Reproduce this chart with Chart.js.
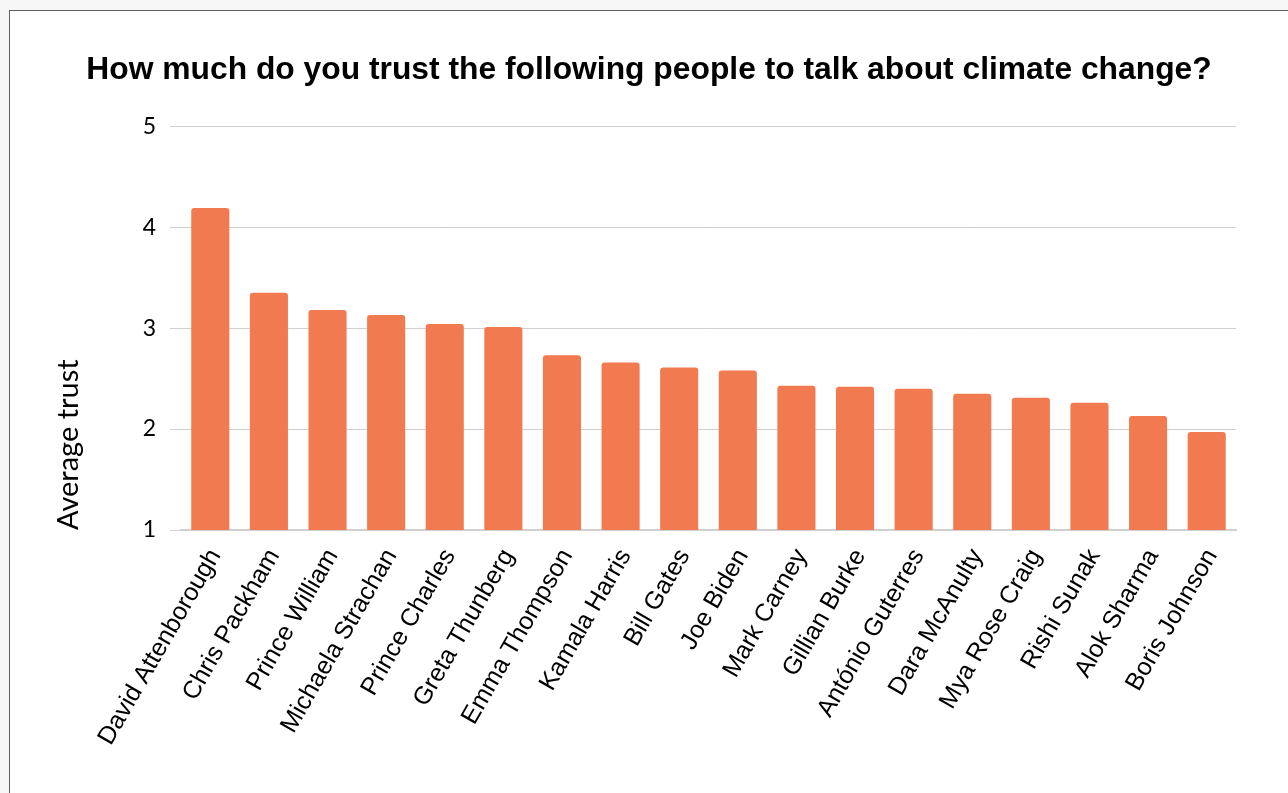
<!DOCTYPE html>
<html>
<head>
<meta charset="utf-8">
<script src="https://cdn.jsdelivr.net/npm/chart.js@4"></script>
<style>
  html, body { margin: 0; padding: 0; background: #f7f7f7; overflow: hidden; }
  #frame {
    position: absolute; left: 9px; top: 10px;
    width: 1300px; height: 800px;
    background: #fff; border: 1px solid #5f5f5f;
  }
  #chart { position: absolute; left: 0; top: 0; }
</style>
</head>
<body>
<div id="frame">
  <div id="chart" style="width:1278px;height:782px;"><canvas id="trustChart"></canvas></div>
</div>
<script>
const people = ['David Attenborough', 'Chris Packham', 'Prince William', 'Michaela Strachan',
  'Prince Charles', 'Greta Thunberg', 'Emma Thompson', 'Kamala Harris', 'Bill Gates',
  'Joe Biden', 'Mark Carney', 'Gillian Burke', 'António Guterres', 'Dara McAnulty',
  'Mya Rose Craig', 'Rishi Sunak', 'Alok Sharma', 'Boris Johnson'];
const avgTrust = [4.19, 3.35, 3.18, 3.13, 3.04, 3.01, 2.73, 2.66, 2.61,
  2.58, 2.43, 2.42, 2.40, 2.35, 2.31, 2.26, 2.13, 1.97];
const yTicks = [1, 2, 3, 4, 5];

const ctx = document.getElementById('trustChart');
new Chart(ctx, {
  type: 'bar',
  data: {
    labels: people,
    datasets: [{
      label: 'Average trust',
      data: avgTrust,
      backgroundColor: '#f27a50',
      borderRadius: { topLeft: 3, topRight: 3 },
      borderSkipped: 'start',
      barPercentage: 0.65,
      categoryPercentage: 1.0
    }]
  },
  options: {
    responsive: true,
    maintainAspectRatio: false,
    animation: false,
    layout: { padding: { left: 52, right: 52, top: 0, bottom: 20 } },
    plugins: {
      legend: { display: false },
      tooltip: { enabled: false },
      title: {
        display: true,
        text: 'How much do you trust the following people to talk about climate change?',
        color: '#000',
        font: { family: '"Liberation Sans", Arial, sans-serif', size: 31.8, weight: 'bold' },
        padding: { top: 40, bottom: 37 }
      }
    },
    scales: {
      y: {
        min: 1,
        max: 5,
        afterBuildTicks: (scale) => { scale.ticks = yTicks.map(v => ({ value: v })); },
        afterFit: (scale) => { scale.width = 119; },
        ticks: {
          color: '#000',
          padding: 14,
          font: { family: 'Lato, "Open Sans", sans-serif', size: 23 }
        },
        grid: { color: '#d0d0d0', lineWidth: 1, tickLength: 11, drawTicks: true },
        border: { display: false },
        title: {
          display: true,
          text: 'Average trust',
          align: 'start',
          color: '#000',
          font: { family: 'Lato, "Open Sans", sans-serif', size: 29 },
          padding: { top: -11, bottom: 0 }
        }
      },
      x: {
        afterFit: (scale) => { scale.height = 243; },
        ticks: {
          color: '#000',
          minRotation: 60,
          maxRotation: 60,
          padding: 6,
          labelOffset: 5,
          autoSkip: false,
          font: { family: '"Liberation Sans", Arial, sans-serif', size: 25 }
        },
        grid: { display: false },
        border: { display: true, color: '#d0d0d0', width: 2 }
      }
    }
  }
});
</script>
</body>
</html>
